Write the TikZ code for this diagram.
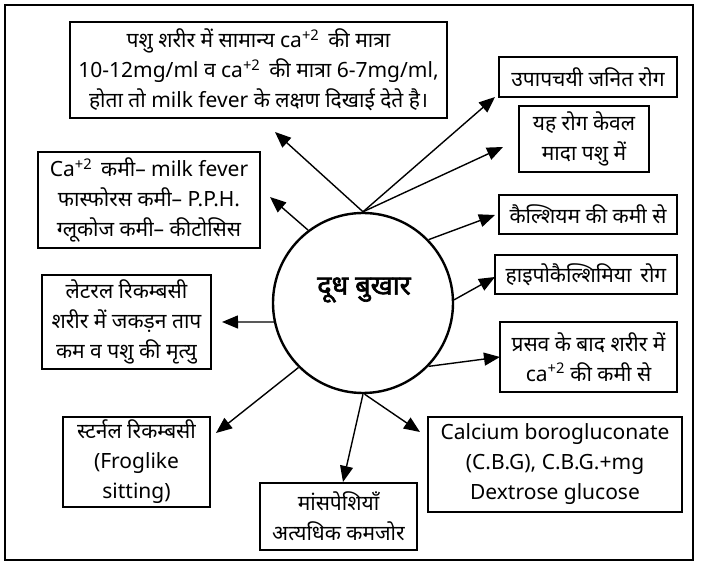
\documentclass[tikz,border=0pt]{standalone}
\usepackage{fontspec}
\setmainfont[Script=Devanagari]{Noto Sans}
\newfontfamily\boldface[Script=Devanagari, FakeBold=2.2]{Noto Sans}
\usetikzlibrary{arrows.meta}
\tikzset{
  box/.style={draw, line width=2.2pt, inner sep=0pt, align=center, font=\fontsize{21}{30}\selectfont},
  arr/.style={line width=1.4pt, -{Triangle[length=16pt, width=13pt]}},
}
\newcommand{\supr}[1]{\textsuperscript{#1}}
\begin{document}
\begin{tikzpicture}[x=1pt,y=1pt]
\useasboundingbox (0,0) rectangle (702,568);
\draw[line width=2.4pt] (5,8) rectangle (693,563);
% boxes (centre x, 568 - centre y)
\node[box, minimum width=377pt, minimum height=96pt] (top) at (258.5,498) {पशु शरीर में सामान्य ca\supr{+2}\, की मात्रा\\10-12mg/ml व ca\supr{+2}\, की मात्रा 6-7mg/ml,\\होता तो milk fever के लक्षण दिखाई देते है।};
\node[box, minimum width=222pt, minimum height=96pt] (cab) at (149,368) {Ca\supr{+2}\, कमी– milk fever\\फास्फोरस कमी– P.P.H.\\ग्लूकोज कमी– कीटोसिस};
\node[box, minimum width=169pt, minimum height=94pt] (lat) at (126.5,246) {लेटरल रिकम्बसी\\शरीर में जकड़न ताप\\कम व पशु की मृत्यु};
\node[box, minimum width=147pt, minimum height=90pt] (ste) at (136.5,106) {स्टर्नल रिकम्बसी\\(Froglike\\sitting)};
\node[box, minimum width=157pt, minimum height=67pt] (man) at (338.5,51.5) {मांसपेशियाँ\\अत्यधिक कमजोर};
\node[box, minimum width=254pt, minimum height=95pt] (cbg) at (555,103.5) {Calcium borogluconate\\(C.B.G), C.B.G.+mg\\Dextrose glucose};
\node[box, minimum width=178pt, minimum height=40pt] (upa) at (588,491) {उपापचयी जनित रोग};
\node[box, minimum width=130pt, minimum height=66pt] (yah) at (584,429) {यह रोग केवल\\मादा पशु में};
\node[box, minimum width=178pt, minimum height=39pt] (kal) at (588,353.5) {कैल्शियम की कमी से};
\node[box, minimum width=182pt, minimum height=39pt] (hyp) at (586,293.5) {हाइपोकैल्शिमिया\, रोग};
\node[box, minimum width=177pt, minimum height=70pt] (pra) at (588.5,211) {प्रसव के बाद शरीर में\\ca\supr{+2} की कमी से};
% centre circle
\node[circle, draw, line width=2.4pt, minimum size=180pt, inner sep=0pt] (c) at (363,265) {};
\node[font=\fontsize{27}{30}\boldface] (ct) at (364,278) {दूध बुखार};
% arrow tips
\coordinate (t1) at (275,436);
\coordinate (t2) at (495,471);
\coordinate (t3) at (503,421);
\coordinate (t4) at (270,371);
\coordinate (t5) at (495,353);
\coordinate (t6) at (495,291);
\coordinate (t7) at (500,211);
\coordinate (t8) at (222,246);
\coordinate (t9) at (216,135);
\coordinate (t10) at (343,86);
\coordinate (t11) at (420,136);
\draw[arr] (c.90) -- (t1);
\draw[arr] (c.90) -- (t2);
\draw[arr] (c.90) -- (t3);
\draw[arr] (c.127) -- (t4);
\draw[arr] (c.44) -- (t5);
\draw[arr] (c.2) -- (t6);
\draw[arr] (c.-44) -- (t7);
\draw[arr] (c.192) -- (t8);
\draw[arr] (c.225) -- (t9);
\draw[arr] (c.-90) -- (t10);
\draw[arr] (c.-89) -- (t11);
\end{tikzpicture}
\end{document}
